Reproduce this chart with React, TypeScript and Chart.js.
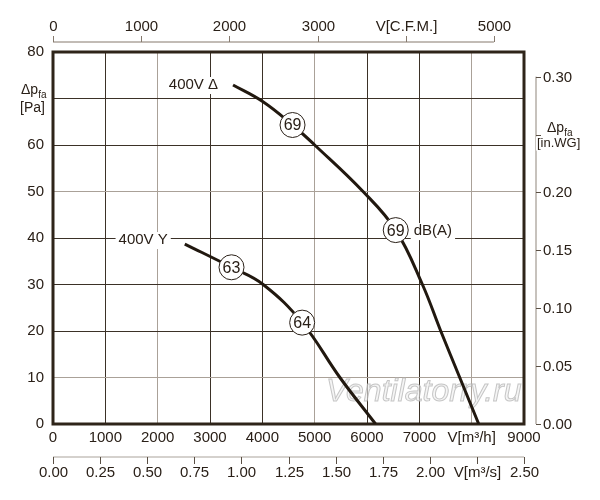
import { useEffect, useRef } from 'react';
import Chart from 'chart.js/auto';
import type { Plugin } from 'chart.js';

const FONT = '"Liberation Sans", Arial, sans-serif';
const INK = '#2a2018';
const GRID = '#3b3127';
const GRID_SOFT = '#aaa198';
const CURVE = '#21180f';

// fan curves, flow in m³/h, pressure in Pa
const deltaFlow = [3440, 4013, 4577, 5000, 5924, 6549, 7059, 7409, 7772, 8135];
const deltaPressure = [72.9, 69.3, 64.3, 60, 50, 41.7, 30, 20, 10, 0];
const starFlow = [2518, 3411, 4015, 4761, 5482, 6164];
const starPressure = [38.7, 33.7, 30, 21.8, 10, 0];

// sound level markers sitting on the curves
const noiseFlow = [4577, 6549, 3411, 4761];
const noisePressure = [64.3, 41.7, 33.7, 21.8];
const noiseLabels = ['69', '69', '63', '64'];

// secondary axes
const cfmTicks = [0, 1000, 2000, 3000, 4000, 5000];
const cfmLabels = ['0', '1000', '2000', '3000', 'V[C.F.M.]', '5000'];
const m3sTicks = [0, 0.25, 0.5, 0.75, 1, 1.25, 1.5, 1.75, 2, 2.25, 2.5];
const m3sLabels = ['0.00', '0.25', '0.50', '0.75', '1.00', '1.25', '1.50', '1.75', '2.00', 'V[m³/s]', '2.50'];
const inwgTicks = [0, 0.05, 0.1, 0.15, 0.2, 0.25, 0.3];
const inwgLabels = ['0.00', '0.05', '0.10', '0.15', '0.20', '', '0.30'];

const softFlowLines = [2000, 5000, 8000];
const softPressureLines = [10, 50];

const CFM_TO_M3H = 1.685;
const M3S_TO_M3H = 3600;
const INWG_TO_PA = 249;

function subText(
  ctx: CanvasRenderingContext2D,
  x: number,
  y: number,
  main: string,
  sub: string,
  size: number,
) {
  ctx.textAlign = 'left';
  ctx.textBaseline = 'alphabetic';
  ctx.font = `${size}px ${FONT}`;
  ctx.fillText(main, x, y);
  const w = ctx.measureText(main).width;
  ctx.font = `${Math.round(size * 0.7)}px ${FONT}`;
  ctx.fillText(sub, x + w, y + 4);
}

function labelWithBg(
  ctx: CanvasRenderingContext2D,
  text: string,
  x: number,
  y: number,
  align: CanvasTextAlign,
) {
  ctx.font = `15px ${FONT}`;
  ctx.textAlign = align;
  ctx.textBaseline = 'middle';
  const w = ctx.measureText(text).width;
  const left = align === 'right' ? x - w : x;
  ctx.fillStyle = '#fff';
  ctx.fillRect(left - 3, y - 8, w + 6, 17);
  ctx.fillStyle = INK;
  ctx.fillText(text, x, y);
}

const extras: Plugin<'line'> = {
  id: 'extras',
  beforeDatasetsDraw(chart) {
    const { ctx, chartArea: a } = chart;
    const x = chart.scales.x;
    const y = chart.scales.y;
    ctx.save();
    // watermark
    ctx.font = `italic 32px ${FONT}`;
    ctx.textAlign = 'center';
    ctx.textBaseline = 'middle';
    ctx.fillStyle = 'rgba(238,238,238,0.6)';
    ctx.strokeStyle = 'rgba(180,180,180,0.75)';
    ctx.lineWidth = 1;
    const wx = x.getPixelForValue(7084);
    const wy = y.getPixelForValue(6.9);
    ctx.fillText('Ventilatorry.ru', wx, wy);
    ctx.strokeText('Ventilatorry.ru', wx, wy);
    // frame
    ctx.strokeStyle = '#2e2419';
    ctx.lineWidth = 3;
    ctx.strokeRect(a.left, a.top, a.right - a.left, a.bottom - a.top);
    ctx.restore();
  },
  afterDatasetsDraw(chart) {
    const { ctx } = chart;
    ctx.save();
    const marks = chart.getDatasetMeta(0).data;
    ctx.fillStyle = INK;
    ctx.font = `16px ${FONT}`;
    ctx.textAlign = 'center';
    ctx.textBaseline = 'middle';
    marks.forEach((p, i) => ctx.fillText(noiseLabels[i], p.x, p.y + 1));

    const d0 = chart.getDatasetMeta(1).data[0];
    const s0 = chart.getDatasetMeta(2).data[0];
    labelWithBg(ctx, '400V Δ', d0.x - 15, d0.y, 'right');
    labelWithBg(ctx, '400V Y', s0.x - 17, s0.y - 4, 'right');
    labelWithBg(ctx, 'dB(A)', marks[1].x + 18, marks[1].y + 1, 'left');
    ctx.restore();
  },
  afterDraw(chart) {
    const { ctx, chartArea: a } = chart;
    const x = chart.scales.x;
    const y = chart.scales.y;
    ctx.save();
    ctx.fillStyle = INK;
    ctx.font = `15px ${FONT}`;

    // top: V [C.F.M.]
    const yTop = a.top - 10;
    ctx.strokeStyle = '#85796d';
    ctx.lineWidth = 1;
    ctx.beginPath();
    ctx.moveTo(x.getPixelForValue(0), yTop);
    ctx.lineTo(x.getPixelForValue(cfmTicks[cfmTicks.length - 1] * CFM_TO_M3H), yTop);
    ctx.stroke();
    ctx.textAlign = 'center';
    ctx.textBaseline = 'middle';
    cfmTicks.forEach((v, i) => {
      const px = Math.round(x.getPixelForValue(v * CFM_TO_M3H)) + 0.5;
      ctx.beginPath();
      ctx.moveTo(px, yTop);
      ctx.lineTo(px, yTop - 6);
      ctx.stroke();
      ctx.fillText(cfmLabels[i], px, yTop - 15);
    });

    // bottom: V [m³/s]
    const yBot = a.bottom + 33;
    ctx.strokeStyle = '#aaa39b';
    ctx.beginPath();
    ctx.moveTo(x.getPixelForValue(0), yBot);
    ctx.lineTo(x.getPixelForValue(m3sTicks[m3sTicks.length - 1] * M3S_TO_M3H), yBot);
    ctx.stroke();
    ctx.strokeStyle = '#5a4f44';
    m3sTicks.forEach((v, i) => {
      const px = Math.round(x.getPixelForValue(v * M3S_TO_M3H)) + 0.5;
      ctx.beginPath();
      ctx.moveTo(px, yBot);
      ctx.lineTo(px, yBot + 7);
      ctx.stroke();
      ctx.fillText(m3sLabels[i], px, yBot + 16);
    });

    // right: Δp [in.WG]
    const xR = a.right + 12;
    ctx.strokeStyle = '#8f857b';
    ctx.beginPath();
    ctx.moveTo(xR, y.getPixelForValue(inwgTicks[inwgTicks.length - 1] * INWG_TO_PA));
    ctx.lineTo(xR, y.getPixelForValue(0));
    ctx.stroke();
    ctx.textAlign = 'left';
    inwgTicks.forEach((v, i) => {
      const py = Math.round(y.getPixelForValue(v * INWG_TO_PA)) + 0.5;
      ctx.strokeStyle = '#5a4f44';
      ctx.beginPath();
      ctx.moveTo(xR, py);
      ctx.lineTo(xR + 5, py);
      ctx.stroke();
      ctx.fillText(inwgLabels[i], xR + 7, py);
    });
    const t25 = y.getPixelForValue(0.25 * INWG_TO_PA);
    subText(ctx, xR + 11, t25 - 3, 'Δp', 'fa', 14);
    ctx.font = `13px ${FONT}`;
    ctx.fillStyle = '#fff';
    ctx.fillRect(xR, t25 + 2, 2, 14);
    ctx.fillStyle = INK;
    ctx.fillText('[in.WG]', xR + 1, t25 + 12);

    // left title
    const t70 = y.getPixelForValue(70);
    subText(ctx, 21, t70 - 5, 'Δp', 'fa', 14);
    ctx.font = `14px ${FONT}`;
    ctx.fillText('[Pa]', 20, t70 + 13);
    ctx.restore();
  },
};

export default function App() {
  const canvasRef = useRef<HTMLCanvasElement | null>(null);

  useEffect(() => {
    if (!canvasRef.current) return;
    Chart.defaults.font.family = FONT;
    Chart.defaults.color = INK;

    const chart = new Chart(canvasRef.current, {
      type: 'line',
      data: {
        datasets: [
          {
            label: 'dB(A)',
            data: noiseFlow.map((v, i) => ({ x: v, y: noisePressure[i] })),
            showLine: false,
            pointRadius: 12.5,
            pointBackgroundColor: '#fff',
            pointBorderColor: INK,
            pointBorderWidth: 1,
          },
          {
            label: '400V Δ',
            data: deltaFlow.map((v, i) => ({ x: v, y: deltaPressure[i] })),
            borderColor: CURVE,
            borderWidth: 3,
            pointRadius: 0,
            tension: 0.4,
          },
          {
            label: '400V Y',
            data: starFlow.map((v, i) => ({ x: v, y: starPressure[i] })),
            borderColor: CURVE,
            borderWidth: 3,
            pointRadius: 0,
            tension: 0.4,
          },
        ],
      },
      options: {
        animation: false,
        responsive: false,
        layout: { padding: { top: 52, right: 76, left: 0, bottom: 0 } },
        plugins: {
          legend: { display: false },
          tooltip: { enabled: false },
        },
        scales: {
          x: {
            type: 'linear',
            min: 0,
            max: 9000,
            border: { display: false },
            grid: {
              drawTicks: false,
              lineWidth: 1,
              color: (c) => (softFlowLines.includes(c.tick?.value) ? GRID_SOFT : GRID),
            },
            ticks: {
              stepSize: 1000,
              padding: 5,
              maxRotation: 0,
              autoSkip: false,
              font: { size: 15 },
              color: INK,
              callback: (v) => (v === 8000 ? 'V[m³/h]' : String(v)),
            },
            afterFit: (s) => {
              s.height = 76;
            },
          },
          y: {
            min: 0,
            max: 80,
            border: { display: false },
            grid: {
              drawTicks: false,
              lineWidth: 1,
              color: (c) => (softPressureLines.includes(c.tick?.value) ? GRID_SOFT : GRID),
            },
            ticks: {
              stepSize: 10,
              padding: 9,
              font: { size: 15 },
              color: INK,
              callback: (v) => (v === 70 ? '' : String(v)),
            },
            afterFit: (s) => {
              s.width = 53;
            },
          },
        },
      },
      plugins: [extras],
    });

    return () => {
      chart.destroy();
    };
  }, []);

  return (
    <div style={{ position: 'fixed', left: 0, top: 0, width: 600, height: 500, background: '#fff' }}>
      <canvas ref={canvasRef} width={600} height={500} style={{ width: 600, height: 500 }} />
    </div>
  );
}
